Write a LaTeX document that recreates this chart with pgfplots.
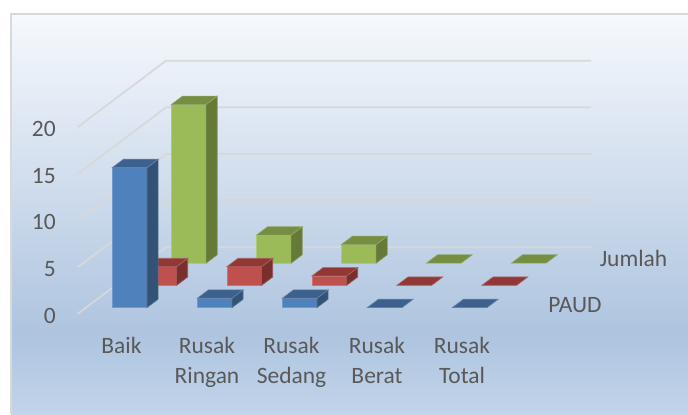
\documentclass[border=0pt]{standalone}
\usepackage{pgfplots}
\pgfplotsset{compat=1.18}
\usepackage{fontspec}
\setmainfont{Carlito}
\definecolor{gridc}{HTML}{D8D8D8}
\definecolor{txt}{HTML}{595959}
\definecolor{bfront}{HTML}{4F81BD}\definecolor{bside}{HTML}{325276}\definecolor{btop}{HTML}{3C618E}
\definecolor{rfront}{HTML}{C0504D}\definecolor{rside}{HTML}{7B2F2D}\definecolor{rtop}{HTML}{913836}
\definecolor{gfront}{HTML}{9BBB59}\definecolor{gside}{HTML}{657A37}\definecolor{gtop}{HTML}{758E41}
\definecolor{bga}{HTML}{F6F9FD}\definecolor{bgb}{HTML}{AEC4DF}\definecolor{bgc}{HTML}{C2D4EA}
\pgfdeclareverticalshading{chartbg}{100bp}{%
  color(0bp)=(bgc);color(25bp)=(bgc);color(35bp)=(bgb);color(75bp)=(bga);color(100bp)=(bga)}
% one bar: category, series row, value, colour prefix
\newcommand{\TheBar}[4]{%
  \pgfmathsetmacro\xa{#1+0.31}\pgfmathsetmacro\xb{#1+0.718}%
  \pgfmathsetmacro\ya{#2+0.29}\pgfmathsetmacro\yb{#2+0.665}%
  \edef\temp{%
  \noexpand\ifdim #3pt>0pt
  \noexpand\addplot3[draw=#4front!80!white,line width=0.5pt,fill=#4front] coordinates {(\xa,\ya,0)(\xb,\ya,0)(\xb,\ya,#3)(\xa,\ya,#3)} --cycle;
  \noexpand\addplot3[draw=#4side!80!white,line width=0.5pt,fill=#4side] coordinates {(\xb,\ya,0)(\xb,\yb,0)(\xb,\yb,#3)(\xb,\ya,#3)} --cycle;
  \noexpand\fi
  \noexpand\addplot3[draw=#4top!80!white,line width=0.5pt,fill=#4top] coordinates {(\xa,\ya,#3)(\xb,\ya,#3)(\xb,\yb,#3)(\xa,\yb,#3)} --cycle;
  }\temp
}
\begin{document}
\begin{tikzpicture}
\begin{scope}[x=0.75pt,y=-0.75pt,shift={(0pt,310.5pt)}]
\path[use as bounding box] (0,0) rectangle (688,414);
\fill[white] (0,0) rectangle (688,414);
\shade[shading=chartbg] (11,14) rectangle (688,414);
\draw[gridc,line width=1.5pt] (11,414) -- (11,14) -- (688,14);
\end{scope}
\begin{axis}[
  at={(58.1pt,75pt)},anchor=origin,
  x={(63.75pt,0pt)},y={(22.16pt,16.67pt)},z={(0pt,7pt)},
  xmin=0,xmax=5,ymin=0,ymax=3,zmin=0,zmax=20,
  hide axis,clip=false,
]
\addplot3[gridc,line width=1.3pt] coordinates {(0,0,0)(0,3,0)(5,3,0)};
\addplot3[gridc,line width=1.3pt] coordinates {(0,0,5)(0,3,5)(5,3,5)};
\addplot3[gridc,line width=1.3pt] coordinates {(0,0,10)(0,3,10)(5,3,10)};
\addplot3[gridc,line width=1.3pt] coordinates {(0,0,15)(0,3,15)(5,3,15)};
\addplot3[gridc,line width=1.3pt] coordinates {(0,0,20)(0,3,20)(5,3,20)};
% Jumlah
\TheBar{0}{2}{17}{g}\TheBar{1}{2}{3}{g}\TheBar{2}{2}{2}{g}\TheBar{3}{2}{0}{g}\TheBar{4}{2}{0}{g}
% middle series
\TheBar{0}{1}{2}{r}\TheBar{1}{1}{2}{r}\TheBar{2}{1}{1}{r}\TheBar{3}{1}{0}{r}\TheBar{4}{1}{0}{r}
% PAUD
\TheBar{0}{0}{15}{b}\TheBar{1}{0}{1}{b}\TheBar{2}{0}{1}{b}\TheBar{3}{0}{0}{b}\TheBar{4}{0}{0}{b}
\end{axis}
\begin{scope}[x=0.75pt,y=-0.75pt,shift={(0pt,310.5pt)},every node/.style={text=txt,font=\fontsize{17.6}{22.5}\selectfont,inner sep=0pt}]
\node[anchor=base east] at (56,137) {20};
\node[anchor=base east] at (56,183.5) {15};
\node[anchor=base east] at (56,230) {10};
\node[anchor=base east] at (56,276.7) {5};
\node[anchor=base east] at (56,323) {0};
\node[anchor=base] at (121.5,353) {Baik};
\node[anchor=base] at (207,353) {Rusak};
\node[anchor=base] at (207,383) {Ringan};
\node[anchor=base] at (291.5,353) {Rusak};
\node[anchor=base] at (291.5,383) {Sedang};
\node[anchor=base] at (377,353) {Rusak};
\node[anchor=base] at (377,383) {Berat};
\node[anchor=base] at (462,353) {Rusak};
\node[anchor=base] at (462,383) {Total};
\node[anchor=base] at (633.5,267) {Jumlah};
\node[anchor=base] at (575,312) {PAUD};
\end{scope}
\end{tikzpicture}
\end{document}
